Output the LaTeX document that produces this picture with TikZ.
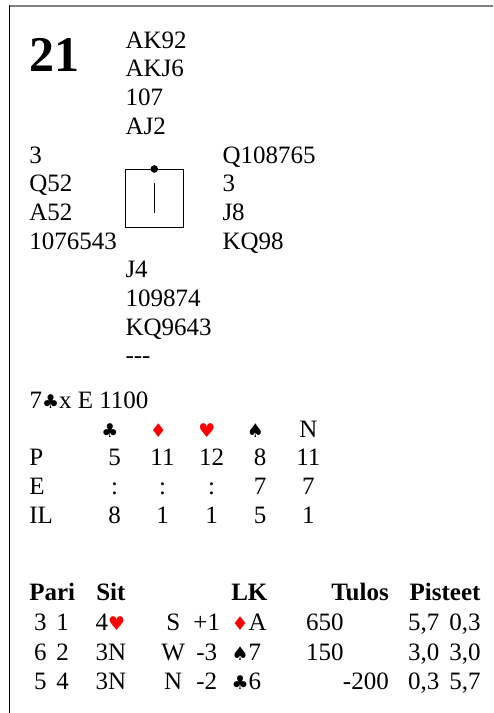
\documentclass[tikz,border=0pt]{standalone}
\usepackage{fontspec}
\usetikzlibrary{calc}
\setmainfont{Liberation Serif}
\newfontfamily\suitfont{DejaVu Sans}
\definecolor{suitred}{RGB}{255,0,0}
\definecolor{framegray}{RGB}{128,128,128}
\newcommand{\myclub}{{\suitfont\fontsize{19bp}{19bp}\selectfont\char"2663}}
\newcommand{\myspade}{{\suitfont\fontsize{19bp}{19bp}\selectfont\char"2660}}
\newcommand{\myheart}{{\suitfont\fontsize{19bp}{19bp}\selectfont\textcolor{suitred}{\char"2665}}}
\newcommand{\mydiam}{{\suitfont\fontsize{19bp}{19bp}\selectfont\textcolor{suitred}{\char"2666}}}
\begin{document}
\begin{tikzpicture}[x=1bp,y=-1bp,
  txt/.style={anchor=base west, inner sep=0pt, outer sep=0pt, font=\fontsize{25bp}{30bp}\selectfont},
  txtc/.style={txt, anchor=base},
  txte/.style={txt, anchor=base east},
  hd/.style={txt, font=\fontsize{25bp}{30bp}\selectfont\bfseries},
  hde/.style={hd, anchor=base east},
  boardno/.style={txt, font=\fontsize{50bp}{52bp}\selectfont\bfseries},
  compassbox/.style={draw, line width=1bp, minimum width=58bp, minimum height=58bp, inner sep=0pt, outer sep=0pt}
]
\useasboundingbox (0,0) rectangle (494,713);
% frame
\draw[framegray, line width=1.6bp] (9,5.8) -- (493,5.8);
\draw[black, line width=1bp] (9.5,5) -- (9.5,713);

% board number
\node[boardno] (board) at (29.5,71.5) {21};

% North
\node[txt] (n1) at (125.5,48.2) {AK92};
\node[txt] (n2) at (125.5,76.9) {AKJ6};
\node[txt] (n3) at (125.5,105.6) {107};
\node[txt] (n4) at (125.5,134.3) {AJ2};
% West
\node[txt] (w1) at (29.3,163) {3};
\node[txt] (w2) at (29.3,191.7) {Q52};
\node[txt] (w3) at (29.3,220.4) {A52};
\node[txt] (w4) at (29.3,249.1) {1076543};
% East
\node[txt] (e1) at (222.5,163) {Q108765};
\node[txt] (e2) at (222.5,191.7) {3};
\node[txt] (e3) at (222.5,220.4) {J8};
\node[txt] (e4) at (222.5,249.1) {KQ98};
% South
\node[txt] (s1) at (125.5,277.8) {J4};
\node[txt] (s2) at (125.5,306.5) {109874};
\node[txt] (s3) at (125.5,335.2) {KQ9643};
\node[txt] (s4) at (125.5,363.9) {-\kern0pt-\kern0pt-};

% compass
\node[compassbox] (compass) at (154.3,198) {};
\fill (compass.north) circle[radius=3.8bp];
\draw[line width=1bp] ($(compass.center)+(0,-15)$) -- ($(compass.center)+(0,15)$);

% contract
\node[txt] (contract) at (29.5,408.3) {7\myclub x E 1100};

% makeable table
\node[txtc] (hc) at (110,437) {\myclub};
\node[txtc] (hdm) at (158.5,437) {\mydiam};
\node[txtc] (hh) at (207,437) {\myheart};
\node[txtc] (hs) at (255.5,437) {\myspade};
\node[txtc] (hn) at (308.3,437) {N};

\node[txt] (rp) at (29.3,465.7) {P};
\node[txtc] (p1) at (114.5,465.7) {5};
\node[txtc] (p2) at (162.5,465.7) {11};
\node[txtc] (p3) at (211.5,465.7) {12};
\node[txtc] (p4) at (260,465.7) {8};
\node[txtc] (p5) at (308.3,465.7) {11};

\node[txt] (re) at (29.3,494.4) {E};
\node[txtc] (e1c) at (114.5,494.4) {:};
\node[txtc] (e2c) at (162.5,494.4) {:};
\node[txtc] (e3c) at (211.5,494.4) {:};
\node[txtc] (e4c) at (260,494.4) {7};
\node[txtc] (e5c) at (308.3,494.4) {7};

\node[txt] (ril) at (29.3,523.1) {IL};
\node[txtc] (i1) at (114.5,523.1) {8};
\node[txtc] (i2) at (162.5,523.1) {1};
\node[txtc] (i3) at (211.5,523.1) {1};
\node[txtc] (i4) at (260,523.1) {5};
\node[txtc] (i5) at (308.3,523.1) {1};

% results table
\node[hd] (hpari) at (29.3,600.5) {Pari};
\node[hd] (hsit) at (96.3,600.5) {Sit};
\node[hd] (hlk) at (231.3,600.5) {LK};
\node[hde] (htulos) at (388.8,600.5) {Tulos};
\node[hde] (hpist) at (480.5,600.5) {Pisteet};

% row 1
\node[txtc] (a1) at (40.3,630.5) {3};
\node[txtc] (a2) at (62.5,630.5) {1};
\node[txt] (a3) at (95.5,630.5) {4\myheart};
\node[txtc] (a4) at (173.2,630.5) {S};
\node[txtc] (a5) at (206.7,630.5) {+1};
\node[txt] (a6) at (231.5,630.5) {\mydiam A};
\node[txt] (a7) at (306.2,630.5) {650};
\node[txt] (a8) at (408,630.5) {5,7};
\node[txte] (a9) at (480.5,630.5) {0,3};
% row 2
\node[txtc] (b1) at (40.3,660) {6};
\node[txtc] (b2) at (62.5,660) {2};
\node[txt] (b3) at (95.5,660) {3N};
\node[txtc] (b4) at (173.2,660) {W};
\node[txtc] (b5) at (206.7,660) {-3};
\node[txt] (b6) at (231.5,660) {\myspade 7};
\node[txt] (b7) at (306.2,660) {150};
\node[txt] (b8) at (408,660) {3,0};
\node[txte] (b9) at (480.5,660) {3,0};
% row 3
\node[txtc] (c1) at (40.3,689.5) {5};
\node[txtc] (c2) at (62.5,689.5) {4};
\node[txt] (c3) at (95.5,689.5) {3N};
\node[txtc] (c4) at (173.2,689.5) {N};
\node[txtc] (c5) at (206.7,689.5) {-2};
\node[txt] (c6) at (231.5,689.5) {\myclub 6};
\node[txte] (c7) at (388.8,689.5) {-200};
\node[txt] (c8) at (408,689.5) {0,3};
\node[txte] (c9) at (480.5,689.5) {5,7};
\end{tikzpicture}
\end{document}
